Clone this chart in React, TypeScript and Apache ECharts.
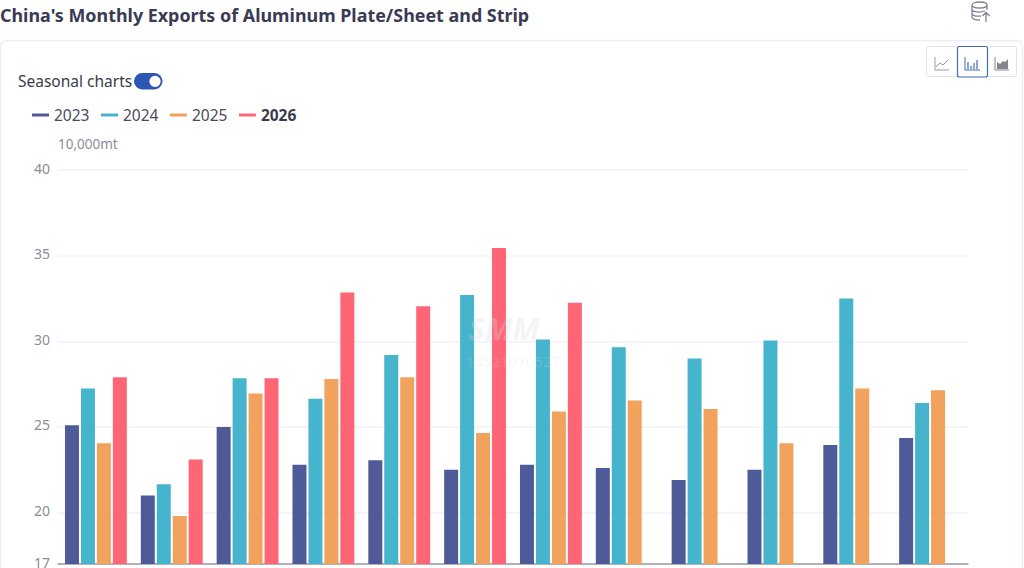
import React, { useEffect, useRef } from "react";
import * as echarts from "echarts";

const months = ["Jan", "Feb", "Mar", "Apr", "May", "Jun", "Jul", "Aug", "Sep", "Oct", "Nov", "Dec"];
const y2023 = [25.1, 21.0, 25.0, 22.8, 23.05, 22.5, 22.8, 22.6, 21.9, 22.5, 23.95, 24.35];
const y2024 = [27.25, 21.65, 27.85, 26.65, 29.2, 32.7, 30.1, 29.65, 29.0, 30.05, 32.5, 26.4];
const y2025 = [24.05, 19.8, 26.95, 27.8, 27.9, 24.65, 25.9, 26.55, 26.05, 24.05, 27.25, 27.15];
const y2026 = [27.9, 23.1, 27.85, 32.85, 32.05, 35.45, 32.25, null, null, null, null, null];
const tickValues = [17, 20, 25, 30, 35, 40];
const seriesNames = ["2023", "2024", "2025", "2026"];
const seriesData = [y2023, y2024, y2025, y2026];
const colors = ["#4f5b98", "#46b4cc", "#f1a25c", "#fe6676"];

const FONT = "'Noto Sans', sans-serif";

echarts.graphic.registerShape(
  "dbIcon",
  echarts.graphic.extendPath(
    "M0 3C0 -1 15 -1 15 3C15 7 0 7 0 3L0 15C0 17 4 18 8 18M0 7.5C0 10 8 11 13 9M0 11.5C0 14 5 14.5 9 14M15 3L15 8M14 20L14 11M10.5 14L14 10.5L17.5 14",
    {},
  ) as any,
);

function axisIcon(x: number, y: number, pts: number[][], color: string, fillShape?: number[][]) {
  const els: any[] = [
    {
      type: "polyline",
      shape: { points: [[x, y], [x, y + 13], [x + 14, y + 13]] },
      style: { stroke: color, fill: "none", lineWidth: 1 },
      silent: true,
    },
  ];
  if (pts.length) {
    els.push({
      type: "polyline",
      shape: { points: pts.map((p) => [x + p[0], y + p[1]]) },
      style: { stroke: color, fill: "none", lineWidth: 1 },
      silent: true,
    });
  }
  if (fillShape) {
    els.push({
      type: "polygon",
      shape: { points: fillShape.map((p) => [x + p[0], y + p[1]]) },
      style: { fill: color },
      silent: true,
    });
  }
  return els;
}

function barIcon(x: number, y: number, color: string) {
  const bars = [[3, 5], [6, 9], [9, 6], [12, 3]];
  const els: any[] = [
    {
      type: "polyline",
      shape: { points: [[x, y], [x, y + 13], [x + 15, y + 13]] },
      style: { stroke: color, fill: "none", lineWidth: 1 },
      silent: true,
    },
  ];
  bars.forEach(([dx, top]) => {
    els.push({
      type: "line",
      shape: { x1: x + dx, y1: y + top, x2: x + dx, y2: y + 12 },
      style: { stroke: color, lineWidth: 1.2 },
      silent: true,
    });
  });
  return els;
}

export default function App() {
  const ref = useRef<HTMLDivElement>(null);
  useEffect(() => {
    document.body.style.margin = "0";
    document.body.style.overflow = "hidden";
    const chart = echarts.init(ref.current!, undefined, { renderer: "svg" });
    chart.setOption({
      animation: false,
      backgroundColor: "#ffffff",
      textStyle: { fontFamily: FONT },
      grid: { left: 58, right: 56, top: 170, bottom: 4, containLabel: false, outerBoundsMode: "none" },
      legend: {
        left: 32,
        top: 107,
        padding: 0,
        icon: "rect",
        itemWidth: 17,
        itemHeight: 3,
        itemGap: 11.5,
        textStyle: { fontFamily: FONT, fontSize: 15.5, color: "#4a4a5a" },
        data: seriesNames.map((n) =>
          n === "2026"
            ? { name: n, textStyle: { fontWeight: "bold", color: "#3a3a4c", fontFamily: FONT, fontSize: 15.5 } }
            : { name: n },
        ),
      },
      xAxis: {
        type: "category",
        data: months,
        axisLine: { lineStyle: { color: "#9a9aa6", width: 1.5 } },
        axisTick: { show: false },
        axisLabel: { show: false },
      },
      yAxis: {
        type: "value",
        min: 17,
        max: 40,
        name: "10,000mt",
        nameLocation: "end",
        nameGap: 19,
        nameTextStyle: { color: "#8c8c99", fontSize: 13.5, align: "left", fontFamily: FONT },
        axisLine: { show: false },
        axisTick: { show: false, customValues: tickValues },
        axisLabel: {
          color: "#8c8c99",
          fontSize: 14,
          margin: 8,
          customValues: tickValues,
          fontFamily: FONT,
          verticalAlign: "bottom",
          lineHeight: 4,
        },
        splitLine: { show: true, lineStyle: { color: "#f1f1f8", width: 1.5 } },
      },
      series: seriesNames.map((n, i) => ({
        name: n,
        type: "bar",
        data: seriesData[i],
        barWidth: 14,
        barGap: "14%",
        itemStyle: { color: colors[i] },
        z: 2,
      })),
      graphic: [
        {
          type: "rect",
          z: -1,
          silent: true,
          shape: { x: 0.5, y: 40.5, width: 1022, height: 560, r: 6 },
          style: { fill: "#fff", stroke: "#ecedf5", lineWidth: 1.5 },
        },
        {
          type: "text",
          x: 0,
          y: 15,
          silent: true,
          style: {
            text: "China's Monthly Exports of Aluminum Plate/Sheet and Strip",
            font: `bold 17.9px ${FONT}`,
            fill: "#3a3a55",
            verticalAlign: "middle",
          },
        },
        {
          type: "text",
          x: 18,
          y: 81,
          silent: true,
          style: { text: "Seasonal charts", font: `15.5px ${FONT}`, fill: "#3c3c48", verticalAlign: "middle" },
        },
        {
          type: "rect",
          silent: true,
          shape: { x: 134, y: 73, width: 28.5, height: 16.5, r: 8.25 },
          style: { fill: "#2b56b1" },
        },
        { type: "circle", silent: true, shape: { cx: 155, cy: 81.3, r: 5.6 }, style: { fill: "#fff" } },
        {
          type: "rect",
          silent: true,
          shape: { x: 926.5, y: 46.5, width: 90, height: 30, r: 2 },
          style: { fill: "#fff", stroke: "#e3e3e6", lineWidth: 1 },
        },
        {
          type: "rect",
          silent: true,
          shape: { x: 957.5, y: 46.5, width: 30, height: 30.5, r: 2 },
          style: { fill: "#fff", stroke: "#3f6bbb", lineWidth: 1.2 },
        },
        ...axisIcon(935, 57, [[1, 10], [5, 6], [8, 8], [13, 3]], "#9a9aa3"),
        ...barIcon(965, 57, "#3f6bbb"),
        ...axisIcon(995, 57, [], "#85858e", [[2, 12], [2, 5], [5, 7], [8, 4], [10, 5], [13, 2], [13, 12]]),
        {
          type: "dbIcon",
          x: 972,
          y: 2,
          silent: true,
          style: { stroke: "#7d8492", fill: "none", lineWidth: 1.3 },
        },
        {
          type: "text",
          x: 504,
          y: 328,
          z: 10,
          silent: true,
          style: {
            text: "SMM",
            font: `italic bold 31px ${FONT}`,
            fill: "rgba(215,218,228,0.28)",
            align: "center",
            verticalAlign: "middle",
          },
        },
        {
          type: "text",
          x: 513,
          y: 361,
          z: 10,
          silent: true,
          style: {
            text: "15521070527",
            font: `15px ${FONT}`,
            fill: "rgba(215,218,228,0.22)",
            align: "center",
            verticalAlign: "middle",
          },
        },
      ],
    });
    return () => chart.dispose();
  }, []);
  return <div ref={ref} style={{ position: "absolute", left: 0, top: 0, width: 1024, height: 568 }} />;
}
